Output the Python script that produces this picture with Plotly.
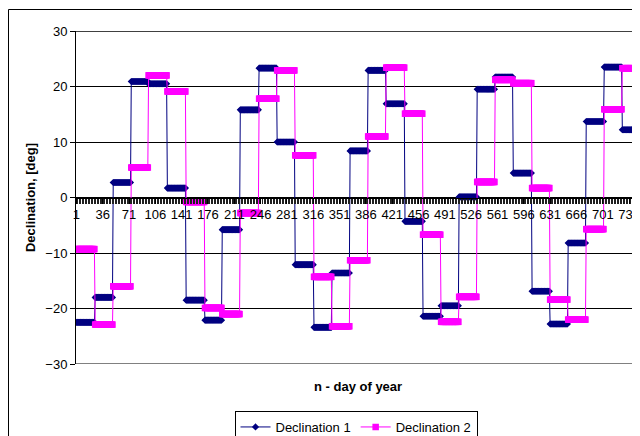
import numpy as np
import plotly.graph_objects as go

# ---- data ----
step_start = [1, 26, 50, 74, 97, 122, 147, 172, 195, 219, 244, 268, 292, 317, 341,
              365, 389, 413, 438, 462, 486, 510, 534, 558, 582, 607, 631, 655, 679, 703, 727]
last_day = 750

decl1_steps = [-22.5, -18.0, 2.7, 20.9, 20.5, 1.7, -18.5, -22.1, -5.8, 15.8, 23.3, 10.0,
               -12.1, -23.4, -13.6, 8.4, 22.9, 16.9, -4.3, -21.4, -19.5, 0.1, 19.5, 21.7,
               4.4, -16.9, -22.8, -8.2, 13.7, 23.5, 12.2]
decl2_steps = [-9.3, -22.9, -16.0, 5.4, 22.0, 19.1, -0.8, -19.9, -21.0, -2.8, 17.8, 22.9,
               7.6, -14.3, -23.2, -11.3, 11.0, 23.4, 15.1, -6.7, -22.4, -17.9, 2.8, 21.2,
               20.6, 1.7, -18.4, -22.0, -5.7, 15.9, 23.3]

tick_days = [1, 36, 71, 106, 141, 176, 211, 246, 281, 316, 351, 386, 421, 456, 491,
             526, 561, 596, 631, 666, 701, 736]
tick_labels = [str(d) for d in tick_days]

# expand steps to one point per day (constant within each step)
days = np.arange(1, last_day + 1)
counts = np.diff(step_start + [last_day + 1])
decl1 = np.repeat(decl1_steps, counts)
decl2 = np.repeat(decl2_steps, counts)

FONT = "Liberation Sans, Arial, sans-serif"

# the page body has an 8px margin, so the figure is laid out 8px smaller/offset
OFF = 8
W, H = 640 - OFF, 436 - OFF
L, R, T = 76 - OFF, 0, 31 - OFF
B = H - (364 - OFF)
pw = W - L - R
ph = H - T - B

def px_x(px):          # px given in reference-screen coordinates
    return (px - OFF - L) / pw

def px_y(py):
    return (H - B - (py - OFF)) / ph

fig = go.Figure()
fig.add_trace(go.Scatter(
    x=days, y=decl1, mode="lines+markers", name="Declination 1",
    line=dict(color="#000080", width=1),
    marker=dict(symbol="diamond", size=5.5, color="#000080", line=dict(width=0)),
))
fig.add_trace(go.Scatter(
    x=days, y=decl2, mode="lines+markers", name="Declination 2",
    line=dict(color="#FF00FF", width=1),
    marker=dict(symbol="square", size=6.5, color="#FF00FF", line=dict(width=0)),
))

fig.update_layout(
    width=W, height=H,
    margin=dict(l=L, r=R, t=T, b=B, autoexpand=False),
    paper_bgcolor="white", plot_bgcolor="white",
    font=dict(family=FONT, size=13, color="black"),
    showlegend=True,
    legend=dict(
        orientation="h", xref="container", yref="container",
        x=(356 - OFF) / W, xanchor="center", y=1 - (411 - OFF) / H, yanchor="top",
        bordercolor="black", borderwidth=1, bgcolor="white",
        font=dict(family=FONT, size=13, color="black"),
        itemwidth=30, tracegroupgap=0,
    ),
    xaxis=dict(
        range=[0.5, last_day + 0.5],
        tickmode="array", tickvals=tick_days, ticktext=tick_labels,
        anchor="free", position=0.5,
        showline=True, linecolor="black", linewidth=1,
        showgrid=False, zeroline=False,
        ticks="outside", ticklen=5, tickcolor="black", tickwidth=1,
        minor=dict(tickmode="linear", tick0=0.5, dtick=2, ticks="outside",
                   ticklen=5, tickcolor="#202020", tickwidth=1, showgrid=False),
        tickfont=dict(family=FONT, size=13, color="black"),
        automargin=False,
    ),
    yaxis=dict(
        range=[-30, 30], tickmode="linear", tick0=-30, dtick=10,
        showline=True, linecolor="black", linewidth=1,
        showgrid=True, gridcolor="black", gridwidth=1,
        zeroline=False,
        ticks="outside", ticklen=5, tickcolor="black",
        tickfont=dict(family=FONT, size=13, color="black"),
        title=dict(text="<b>Declination, [deg]</b>", standoff=6,
                   font=dict(family=FONT, size=13, color="black")),
        automargin=False,
    ),
    annotations=[dict(
        text="<b>n - day of year</b>", xref="paper", yref="paper",
        x=px_x(358), y=px_y(386), xanchor="center", yanchor="middle",
        showarrow=False, font=dict(family=FONT, size=13, color="black"),
    )],
    shapes=[
        # outer chart border (cropped at right/bottom)
        dict(type="rect", xref="paper", yref="paper",
             x0=px_x(8.5), x1=px_x(700), y0=px_y(500), y1=px_y(9.5),
             line=dict(color="black", width=1), fillcolor="rgba(0,0,0,0)", layer="below"),
        # plot area top edge
        dict(type="line", xref="paper", yref="y", x0=0, x1=1, y0=30, y1=30,
             line=dict(color="#404040", width=2), layer="below"),
        # plot area bottom edge
        dict(type="line", xref="paper", yref="y", x0=0, x1=1, y0=-30, y1=-30,
             line=dict(color="black", width=1), layer="below"),
    ],
)

fig.write_html("out.html")
